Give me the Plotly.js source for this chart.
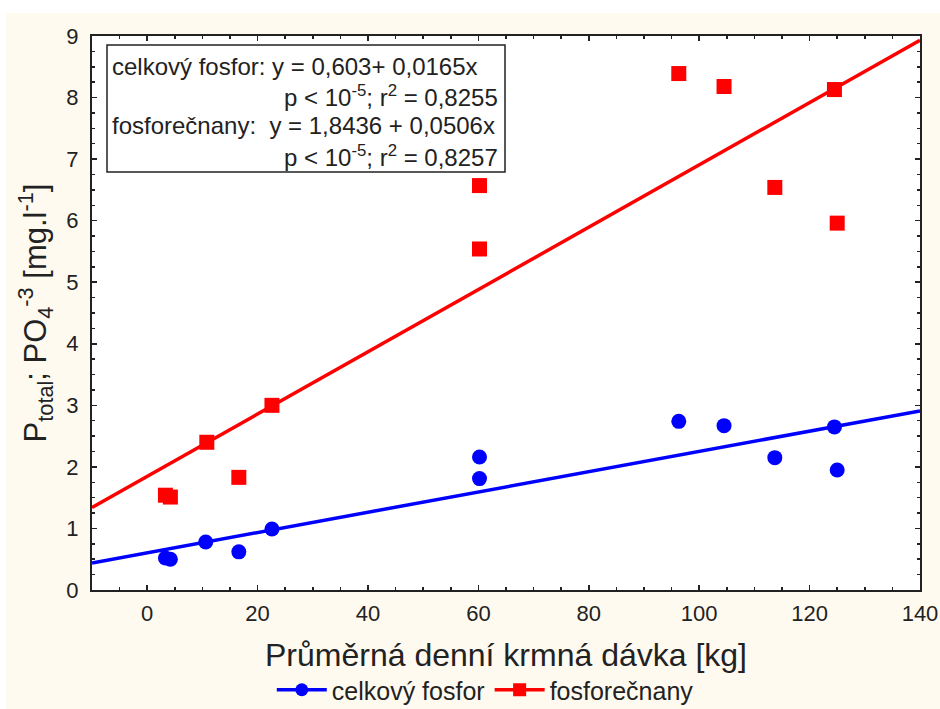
<!DOCTYPE html>
<html>
<head>
<meta charset="utf-8">
<script src="https://cdn.plot.ly/plotly-3.0.1.min.js"></script>
<style>html,body{margin:0;padding:0;background:#fff;}#chart{width:940px;height:709px;}</style>
</head>
<body>
<div id="chart"></div>
<script>
// ---- data ----
const seriesNames = ['celkový fosfor', 'fosforečnany'];

const totalP_x = [3.3, 4.2, 10.6, 16.6, 22.6, 60.2, 60.2, 96.3, 104.5, 113.7, 124.5, 125.0];
const totalP_y = [0.52, 0.50, 0.78, 0.62, 0.99, 2.16, 1.81, 2.74, 2.67, 2.15, 2.65, 1.95];

const phosphate_x = [3.3, 4.2, 10.8, 16.6, 22.6, 60.2, 60.2, 96.3, 104.5, 113.7, 124.5, 125.0];
const phosphate_y = [1.54, 1.51, 2.40, 1.83, 3.00, 6.57, 5.54, 8.39, 8.18, 6.54, 8.13, 5.96];

// regression lines (endpoints at the axis limits, from the reported fits)
const fitX = [-10, 140];
const totalP_fitY = [0.44, 2.91];
const phosphate_fitY = [1.34, 8.93];

const xTickVals = [0, 20, 40, 60, 80, 100, 120, 140];
const yTickVals = [0, 1, 2, 3, 4, 5, 6, 7, 8, 9];

const boxLines = [
  'celkový fosfor: y = 0,603+ 0,0165x',
  'p < 10<sup>-5</sup>; r<sup>2</sup> = 0,8255',
  'fosforečnany:  y = 1,8436 + 0,0506x',
  'p < 10<sup>-5</sup>; r<sup>2</sup> = 0,8257'
];

const xTitle = 'Průměrná denní krmná dávka [kg]';
const yTitle = 'P<sub>total</sub>; PO<sub>4</sub><sup>-3</sup> [mg.l<sup>-1</sup>]';

// ---- drawing ----
const BLUE = '#0000ff', RED = '#ff0000';
const FONT = 'Liberation Sans, Arial, sans-serif';

const traces = [
  {x: fitX, y: phosphate_fitY, mode: 'lines', line: {color: RED, width: 3.5}, showlegend: false, hoverinfo: 'skip'},
  {x: fitX, y: totalP_fitY, mode: 'lines', line: {color: BLUE, width: 3.5}, showlegend: false, hoverinfo: 'skip'},
  {x: phosphate_x, y: phosphate_y, mode: 'markers', name: seriesNames[1],
   marker: {symbol: 'square', size: 15, color: RED}, showlegend: false, cliponaxis: false},
  {x: totalP_x, y: totalP_y, mode: 'markers', name: seriesNames[0],
   marker: {symbol: 'circle', size: 15, color: BLUE}, showlegend: false, cliponaxis: false},
  // legend entries
  {x: [null], y: [null], mode: 'lines+markers', name: seriesNames[0],
   line: {color: BLUE, width: 3.5}, marker: {symbol: 'circle', size: 13, color: BLUE}},
  {x: [null], y: [null], mode: 'lines+markers', name: seriesNames[1],
   line: {color: RED, width: 3.5}, marker: {symbol: 'square', size: 13, color: RED}}
];

const axisCommon = {
  showline: true, linecolor: '#222', linewidth: 2, mirror: 'ticks',
  ticks: 'inside', ticklen: 5, tickwidth: 1.5, tickcolor: '#222',
  showgrid: false, zeroline: false, automargin: false,
  tickfont: {family: FONT, size: 22, color: '#222'}
};

const pw = 828, ph = 554;
const px = v => (v - 92) / pw;
const py = v => (590 - v) / ph;

const annotations = [
  {xref: 'paper', yref: 'paper', x: px(110), y: py(66), xanchor: 'left', yanchor: 'middle', text: boxLines[0]},
  {xref: 'paper', yref: 'paper', x: px(500), y: py(96), xanchor: 'right', yanchor: 'middle', text: boxLines[1]},
  {xref: 'paper', yref: 'paper', x: px(110), y: py(126), xanchor: 'left', yanchor: 'middle', text: boxLines[2]},
  {xref: 'paper', yref: 'paper', x: px(500), y: py(156), xanchor: 'right', yanchor: 'middle', text: boxLines[3]}
].map(a => Object.assign(a, {showarrow: false, font: {family: FONT, size: 24, color: '#222'}}));

const layout = {
  width: 940, height: 709,
  margin: {l: 92, r: 20, t: 36, b: 119, autoexpand: false},
  paper_bgcolor: '#fffaf0', plot_bgcolor: '#ffffff',
  font: {family: FONT, color: '#222'},
  showlegend: true,
  legend: {orientation: 'h', x: 0.475, xanchor: 'center', y: py(690), yanchor: 'middle',
           font: {family: FONT, size: 25, color: '#222'}, bgcolor: 'rgba(0,0,0,0)', itemwidth: 50},
  xaxis: Object.assign({}, axisCommon, {
    range: [-10, 140], tickvals: xTickVals, ticktext: xTickVals.map(String),
    ticklabelstandoff: 3,
    minor: {dtick: 5, tick0: 0, ticks: 'inside', ticklen: 3, tickwidth: 1.5, tickcolor: '#222', showgrid: false},
    title: {text: xTitle, font: {family: FONT, size: 32, color: '#222'}, standoff: 18}
  }),
  yaxis: Object.assign({}, axisCommon, {
    range: [0, 9], tickvals: yTickVals, ticktext: yTickVals.map(String),
    ticklabelstandoff: 7,
    minor: {dtick: 0.25, tick0: 0, ticks: 'inside', ticklen: 3, tickwidth: 1.5, tickcolor: '#222', showgrid: false},
    title: {text: yTitle, font: {family: FONT, size: 31, color: '#222'}, standoff: 10}
  }),
  shapes: [
    {type: 'rect', xref: 'paper', yref: 'paper', x0: px(107), x1: px(505), y0: py(172), y1: py(45),
     line: {color: '#222', width: 1.5}, fillcolor: 'rgba(0,0,0,0)', layer: 'above'},
    {type: 'rect', xref: 'paper', yref: 'paper', x0: px(0), x1: px(940), y0: py(13), y1: py(0),
     line: {width: 0}, fillcolor: '#ffffff', layer: 'below'},
    {type: 'rect', xref: 'paper', yref: 'paper', x0: px(0), x1: px(6), y0: py(709), y1: py(0),
     line: {width: 0}, fillcolor: '#ffffff', layer: 'below'}
  ],
  annotations: annotations
};

Plotly.newPlot('chart', traces, layout, {displayModeBar: false, staticPlot: true});
</script>
</body>
</html>
